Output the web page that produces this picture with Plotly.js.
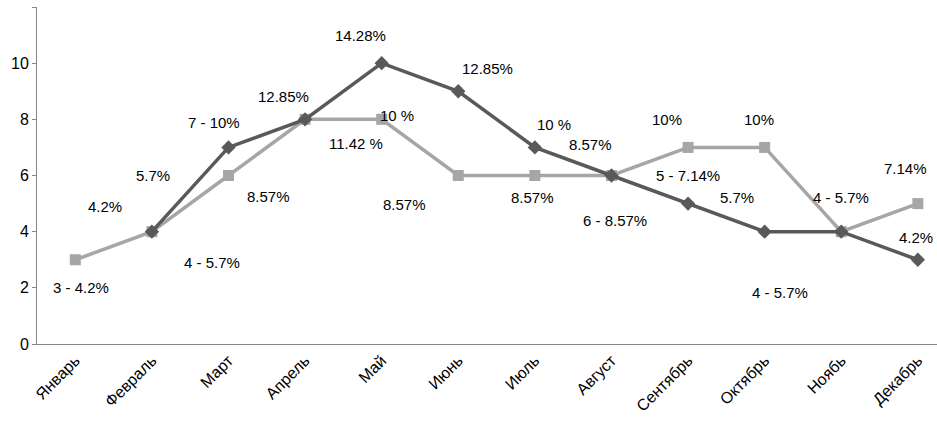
<!DOCTYPE html>
<html><head><meta charset="utf-8">
<script src="https://cdn.plot.ly/plotly-3.0.1.min.js"></script>
<style>body{margin:0}#chart{width:937px;height:427px}</style>
</head><body><div id="chart"></div>
<script>
// months and the two series
var months = ["Январь","Февраль","Март","Апрель","Май","Июнь","Июль","Август","Сентябрь","Октябрь","Ноябь","Декабрь"];
var darkVals = [null,4,7,8,10,9,7,6,5,4,4,3];
var lightVals = [3,4,6,8,8,6,6,6,7,7,4,5];

// label texts and where they sit (x in category index, y in data units)
var labelText = ["14.28%","12.85%","12.85%","7 - 10%","10 %","11.42 %","10 %","8.57%","10%","10%","7.14%",
  "5 - 7.14%","5.7%","4 - 5.7%","8.57%","8.57%","8.57%","6 - 8.57%","5.7%","4.2%","4 - 5.7%","3 - 4.2%","4 - 5.7%","4.2%"];
var labelX = [3.72,5.38,2.72,1.81,4.2,3.67,6.25,6.72,7.73,8.92,10.84,8.0,8.64,10,2.52,4.3,5.97,7.04,1.02,0.39,1.78,0.07,9.2,10.98];
var labelY = [11.0,9.8,8.8,7.9,8.15,7.15,7.8,7.1,8.0,8.0,6.25,6.0,5.2,5.2,5.25,4.98,5.2,4.4,6.0,4.9,2.9,2.0,1.85,3.8];

var xs = months.map(function(m,i){return i;});
var dark = {x:xs, y:darkVals, mode:'lines+markers', type:'scatter', line:{color:'#595959',width:3.5},
  marker:{symbol:'diamond',size:11,color:'#595959'}};
var light = {x:xs, y:lightVals, mode:'lines+markers', type:'scatter', line:{color:'#a6a6a6',width:3.5},
  marker:{symbol:'square',size:11,color:'#a6a6a6'}};

var notes = [];
for (var i=0;i<labelText.length;i++){
  notes.push({x:labelX[i], y:labelY[i], text:labelText[i], showarrow:false, xref:'x', yref:'y',
    font:{size:15,color:'#000'}});
}

var layout = {
  width:937, height:427, margin:{l:37,r:0,t:7,b:83},
  showlegend:false, paper_bgcolor:'#fff', plot_bgcolor:'#fff',
  font:{family:'Liberation Sans, Arial, sans-serif', size:15, color:'#000'},
  xaxis:{range:[-0.5,11.25], tickvals:xs, ticktext:months, tickangle:-45, showgrid:false, zeroline:false,
    showline:true, linecolor:'#868686', ticks:'', tickfont:{size:16}},
  yaxis:{range:[0,12], dtick:2, showgrid:false, zeroline:false, showline:true, linecolor:'#868686',
    ticks:'outside', ticklen:4, tickcolor:'#868686', tickfont:{size:16}},
  annotations:notes
};
Plotly.newPlot('chart',[light,dark],layout,{displayModeBar:false});
</script></body></html>
